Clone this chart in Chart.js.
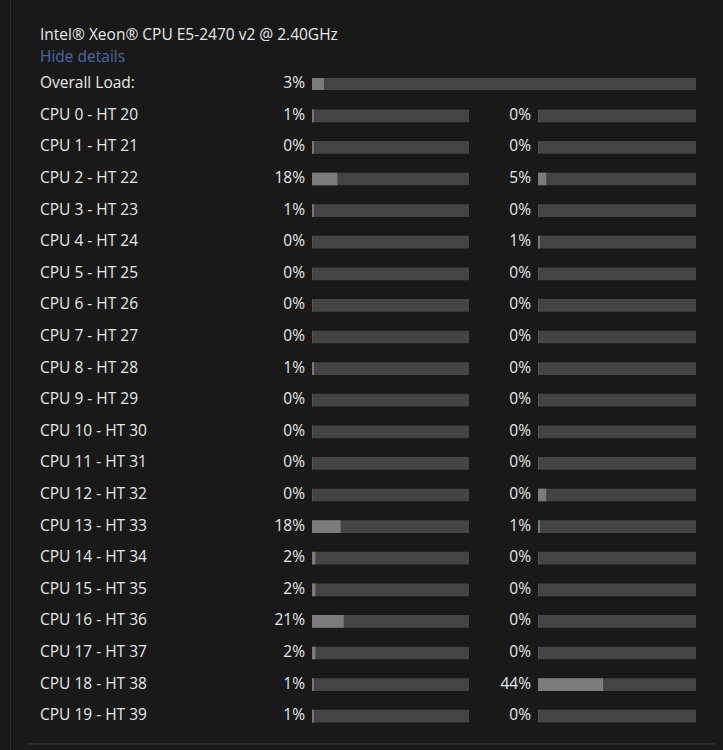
<!DOCTYPE html>
<html>
<head>
<meta charset="utf-8">
<script src="https://cdn.jsdelivr.net/npm/chart.js@4.4.1/dist/chart.umd.min.js"></script>
<style>
  html,body{margin:0;padding:0;background:#19191a;width:723px;height:750px;overflow:hidden;}
  body{position:relative;font-family:"Open Sans","Noto Sans",sans-serif;color:#e8e8e8;}
  .t{position:absolute;font-size:15.5px;line-height:20px;white-space:nowrap;}
  .r{text-align:right;}
  canvas{position:absolute;}
  #vline{position:absolute;left:10px;top:0;width:1px;height:750px;background:#2b2b2c;}
  #hline{position:absolute;left:27px;top:743px;width:688px;height:2px;background:#2b2b2c;}
</style>
</head>
<body>
<div id="vline"></div>
<div id="hline"></div>
<div class="t" style="left:40px;top:24px;">Intel® Xeon® CPU E5-2470 v2 @ 2.40GHz</div>
<div class="t" style="left:40px;top:46px;color:#4a68a8;">Hide details</div>
<div class="t" style="left:40px;top:72px;">Overall Load:</div>
<div id="rows"></div>
<canvas id="overall" width="384" height="12" style="left:312px;top:78px;"></canvas>
<canvas id="leftChart" width="157" height="632" style="left:312px;top:100px;"></canvas>
<canvas id="rightChart" width="158" height="632" style="left:538px;top:100px;"></canvas>
<script>
// ---- data ----
const overallLoad = 3;
const overallLabel = 3;
const categories = ["CPU 0 - HT 20","CPU 1 - HT 21","CPU 2 - HT 22","CPU 3 - HT 23","CPU 4 - HT 24",
  "CPU 5 - HT 25","CPU 6 - HT 26","CPU 7 - HT 27","CPU 8 - HT 28","CPU 9 - HT 29",
  "CPU 10 - HT 30","CPU 11 - HT 31","CPU 12 - HT 32","CPU 13 - HT 33","CPU 14 - HT 34",
  "CPU 15 - HT 35","CPU 16 - HT 36","CPU 17 - HT 37","CPU 18 - HT 38","CPU 19 - HT 39"];
// displayed percentages
const cpuLabels = [1,0,18,1,0,0,0,0,1,0,0,0,0,18,2,2,21,2,1,1];
const htLabels  = [0,0,5,0,1,0,0,0,0,0,0,0,0,1,0,0,0,0,44,0];
// bar fill
const cpuLoad = [1,1,16,1,0,0,0,0,1,0,0,0,0,18,2,2,20,2,1,1];
const htLoad  = [0,0,5,0,1,0,0,0,0,0,0,0,5,1,0,0,0,0,41,0];
const maxLoad = 100;

// ---- text ----
const rowTop = 100, pitch = 31.6;
const rows = document.getElementById('rows');
categories.forEach((c,i)=>{
  const cy = rowTop + pitch*(i+0.5);
  const top = Math.round(cy - 12);
  rows.insertAdjacentHTML('beforeend',
    `<div class="t" style="left:40px;top:${top}px;">${c}</div>`+
    `<div class="t r" style="left:205px;width:100px;top:${top}px;">${cpuLabels[i]}%</div>`+
    `<div class="t r" style="left:431px;width:100px;top:${top}px;">${htLabels[i]}%</div>`);
});
rows.insertAdjacentHTML('beforeend',
  `<div class="t r" style="left:205px;width:100px;top:72px;">${overallLabel}%</div>`);

// ---- charts ----
const FILL = '#7b7b7b', TRACK = '#444445';
function makeBars(id, labels, values){
  new Chart(document.getElementById(id), {
    type: 'bar',
    data: {
      labels: labels,
      datasets: [
        {data: values, backgroundColor: FILL, barThickness: 12, grouped: false, order: 0},
        {data: labels.map(()=>maxLoad), backgroundColor: TRACK, barThickness: 12, grouped: false, order: 1}
      ]
    },
    options: {
      indexAxis: 'y',
      responsive: false,
      animation: false,
      devicePixelRatio: 1,
      layout: {padding: 0},
      plugins: {legend: {display: false}, tooltip: {enabled: false}},
      scales: {
        x: {display: false, min: 0, max: maxLoad},
        y: {display: false}
      }
    }
  });
}
makeBars('overall', ['Overall Load'], [overallLoad]);
makeBars('leftChart', categories, cpuLoad);
makeBars('rightChart', categories, htLoad);
</script>
</body>
</html>
